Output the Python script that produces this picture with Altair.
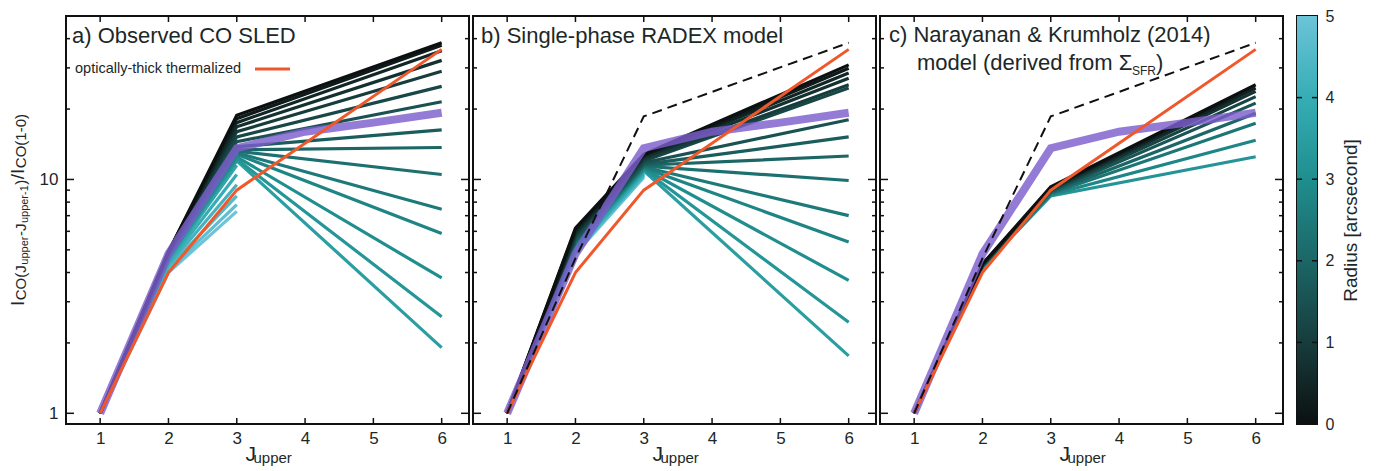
import altair as alt
import pandas as pd

# ---------------- data ----------------
J_ALL = [1, 2, 3, 4, 5, 6]
J_SLED = [1, 2, 3, 6]

thermalized = [1, 4, 9, 36]                     # optically-thick thermalized (J^2), orange, at J_SLED
global_sled = [1, 4.8, 13.6, 16.0, 17.5, 19.3]  # purple thick line, at J_ALL
central_obs = [1, 4.6, 18.6, 38.4]              # dashed line (panels b, c), at J_SLED

# a) observed SLEDs per radius (values at J = 1, 2, 3, 6)
obs_radius = [0.0, 0.25, 0.5, 0.75, 1.0, 1.25, 1.5, 1.75, 2.0, 2.25, 2.5, 2.75, 3.0, 3.25, 3.5,
              3.75, 4.0, 4.25, 4.5, 4.75, 5.0]
obs_j2 = [4.9, 4.9, 4.9, 4.9, 4.9, 4.8, 4.8, 4.8, 4.8, 4.8, 4.7, 4.7, 4.7, 4.6, 4.6,
          4.5, 4.4, 4.3, 4.2, 4.1, 4.0]
obs_j3 = [18.8, 18.2, 17.5, 16.8, 16.0, 15.2, 14.5, 13.8, 13.4, 13.2, 13.0, 12.8, 12.5, 12.2, 12.0,
          11.5, 10.5, 9.5, 8.5, 7.8, 7.3]
obs_j6 = [38.4, 37.5, 35.5, 32.3, 29.0, 25.0, 21.5, 16.3, 13.7, 10.5, 7.46, 5.87, 3.79, 2.59, 1.91,
          None, None, None, None, None, None]

# b) single-phase RADEX model
radex_radius = obs_radius
radex_j2 = [6.2, 6.1, 6.0, 5.9, 5.8, 5.7, 5.6, 5.5, 5.5, 5.4, 5.4, 5.3, 5.3, 5.2, 5.2,
            5.1, 5.0, 5.0, 4.9, 4.9, 4.8]
radex_j3 = [12.8, 12.7, 12.6, 12.4, 12.2, 12.0, 11.8, 11.6, 11.5, 11.4, 11.3, 11.2, 11.1, 11.0, 10.9,
            10.8, 10.6, 10.5, 10.4, 10.3, 10.2]
radex_j6 = [30.9, 29.9, 28.5, 27.1, 25.4, 24.6, 18.0, 15.2, 12.6, 9.9, 7.0, 5.4, 3.7, 2.45, 1.76,
            None, None, None, None, None, None]

# c) Narayanan & Krumholz (2014) model
nk_radius = [0.0, 0.4, 0.8, 1.2, 1.6, 2.0, 2.4, 2.8, 3.2]
nk_j2 = [4.35, 4.33, 4.31, 4.3, 4.28, 4.26, 4.24, 4.22, 4.2]
nk_j3 = [9.3, 9.2, 9.1, 9.0, 8.9, 8.8, 8.7, 8.6, 8.5]
nk_j6 = [25.4, 24.6, 23.8, 22.6, 21.2, 19.2, 17.4, 14.7, 12.5]

x_ticks = [1, 2, 3, 4, 5, 6]
y_major = [1, 10]
y_minor = [2, 3, 4, 5, 6, 7, 8, 9, 20, 30, 40]
cbar_ticks = [0, 1, 2, 3, 4, 5]

# ---------------- styling ----------------
FONT = "Liberation Sans"
TXT = "#1c2828"
ORANGE = "#f0582c"
PURPLE = "#7c5ecc"
CMAP = ["#0c1010", "#173c3c", "#1c6666", "#1f8e8e", "#36adb5", "#6cc4d8"]
W, H = 403, 408

xs = alt.Scale(domain=[0.5, 6.4], nice=False, zero=False)
ys = alt.Scale(type="log", domain=[0.9, 50], nice=False)
cs = alt.Scale(domain=[0, 1, 2, 3, 4, 5], range=CMAP, interpolate="rgb")


def long_df(radii, j2, j3, j6):
    rows = []
    for r, a, b, c in zip(radii, j2, j3, j6):
        for J, v in zip(J_SLED, [1, a, b, c]):
            if v is not None:
                rows.append({"r": r, "J": J, "v": v})
    df = pd.DataFrame(rows)
    return df.sort_values(["r", "J"], ascending=[False, True])


XAXIS = alt.Axis(values=x_ticks, format="d", labelFontSize=17, labelPadding=6, title=None,
                 ticks=False, domain=False, grid=False)
YAXIS = alt.Axis(values=y_major, format="d", labelFontSize=17, labelPadding=8, title=None,
                 ticks=False, domain=False, grid=False)


def text(s, x, y, size, align="left", angle=0, baseline="alphabetic", color=TXT):
    kw = dict(align=align, baseline=baseline, fontSize=size, font=FONT, color=color, text=s)
    if angle:
        kw["angle"] = angle
    return alt.Chart(pd.DataFrame({"d": [0]})).mark_text(**kw).encode(
        x=alt.value(x), y=alt.value(y))


def panel(df, dashed, yaxis, extra_text):
    def X():
        return alt.X("J:Q", scale=xs, axis=XAXIS)

    def Y():
        return alt.Y("v:Q", scale=ys, axis=yaxis)

    base_lines = alt.Chart(df).mark_line(strokeWidth=3.2).encode(
        x=X(), y=Y(),
        color=alt.Color("r:Q", scale=cs, legend=None),
        detail="r:N",
    )
    layers = [base_lines]
    gdf = pd.DataFrame({"J": J_ALL, "v": global_sled})
    layers.append(alt.Chart(gdf).mark_line(color=PURPLE, strokeWidth=8, opacity=0.82).encode(
        x=X(), y=Y()))
    tdf = pd.DataFrame({"J": J_SLED, "v": thermalized})
    layers.append(alt.Chart(tdf).mark_line(color=ORANGE, strokeWidth=3).encode(x=X(), y=Y()))
    if dashed:
        ddf = pd.DataFrame({"J": J_SLED, "v": central_obs})
        layers.append(alt.Chart(ddf).mark_line(color="#111111", strokeWidth=2,
                                               strokeDash=[10, 6]).encode(x=X(), y=Y()))
    # inward ticks on all four sides
    tx = pd.DataFrame({"J": x_ticks})
    c = "#111111"
    layers.append(alt.Chart(tx).mark_rule(color=c, strokeWidth=1.5).encode(
        x=X(), y=alt.value(H - 6), y2=alt.value(H)))
    layers.append(alt.Chart(tx).mark_rule(color=c, strokeWidth=1.5).encode(
        x=X(), y=alt.value(0), y2=alt.value(6)))
    for vals, ln in ((y_major, 8), (y_minor, 4)):
        tdf2 = pd.DataFrame({"v": vals})
        layers.append(alt.Chart(tdf2).mark_rule(color=c, strokeWidth=1.5).encode(
            y=Y(), x=alt.value(0), x2=alt.value(ln)))
        layers.append(alt.Chart(tdf2).mark_rule(color=c, strokeWidth=1.5).encode(
            y=Y(), x=alt.value(W - ln), x2=alt.value(W)))
    # x title J_upper
    layers.append(text("J", W / 2 - 22, H + 37, 21))
    layers.append(text("upper", W / 2 - 14, H + 39, 15))
    layers += extra_text
    return alt.layer(*layers).properties(width=W, height=H)


# ---- y-axis title built from pieces (I_CO(Jupper-Jupper-1)/I_CO(1-0)) ----
EM = {"I": .278, "C": .722, "O": .778, "(": .333, ")": .333, "J": .5, "u": .556, "p": .556,
      "e": .556, "r": .333, "-": .333, "1": .556, "0": .556, "/": .278}
pieces = [("I", 19, -42), ("CO(J", 15, -40), ("upper", 11, -38), ("-J", 15, -40),
          ("upper-1", 11, -38), (")", 15, -40), ("/I", 19, -42), ("CO(1-0)", 15, -40)]
ylab = []
ypos = 290
for s, sz, xo in pieces:
    ylab.append(text(s, xo, ypos, sz, angle=270))
    ypos -= sum(EM[ch] for ch in s) * sz + 0.5

a_text = [
    text("a) Observed CO SLED", 6, 27, 22),
    text("optically-thick thermalized", 9, 57, 14.5),
    alt.Chart(pd.DataFrame({"d": [0]})).mark_rule(color=ORANGE, strokeWidth=3).encode(
        x=alt.value(189), x2=alt.value(224), y=alt.value(53)),
] + ylab
b_text = [text("b) Single-phase RADEX model", 8, 27, 22)]
c_text = [
    text("c) Narayanan & Krumholz (2014)", 9, 26, 22),
    text("model (derived from \u03a3", 37, 54, 22),
    text("SFR", 252, 59, 12),
    text(")", 276, 54, 22),
]

pa = panel(long_df(obs_radius, obs_j2, obs_j3, obs_j6), False, YAXIS, a_text)
pb = panel(long_df(radex_radius, radex_j2, radex_j3, radex_j6), True, None, b_text)
pc = panel(long_df(nk_radius, nk_j2, nk_j3, nk_j6), True, None, c_text)

# ---------------- colorbar ----------------
cb_scale = alt.Scale(domain=[0, 5], nice=False, zero=False)
CB_AXIS = alt.Axis(orient="right", values=cbar_ticks, format="d", labelFontSize=16,
                   labelPadding=8, title="Radius [arcsecond]", titleFontSize=19,
                   titleAngle=270, titleBaseline="top", titlePadding=8,
                   ticks=False, domain=False, grid=False)
grad = alt.Gradient(gradient="linear", x1=0, x2=0, y1=1, y2=0,
                    stops=[alt.GradientStop(offset=i / 5, color=c) for i, c in enumerate(CMAP)])
cb = alt.Chart(pd.DataFrame({"t": [cbar_ticks[0]], "hi": [cbar_ticks[-1]]})).mark_rect(fill=grad).encode(
    y=alt.Y("t:Q", scale=cb_scale, axis=CB_AXIS),
    y2="hi:Q",
    x=alt.value(0), x2=alt.value(20),
)
cbt = pd.DataFrame({"t": cbar_ticks[1:-1]})
cb_t1 = alt.Chart(cbt).mark_rule(color="#111", strokeWidth=1.5).encode(
    y=alt.Y("t:Q", scale=cb_scale, axis=CB_AXIS), x=alt.value(0), x2=alt.value(5))
cb_t2 = alt.Chart(cbt).mark_rule(color="#111", strokeWidth=1.5).encode(
    y=alt.Y("t:Q", scale=cb_scale, axis=CB_AXIS), x=alt.value(15), x2=alt.value(20))
cbar = alt.layer(cb, cb_t1, cb_t2).properties(width=20, height=H)

chart = alt.hconcat(alt.hconcat(pa, pb, pc, spacing=0), cbar, spacing=10).configure_view(
    stroke="#111111", strokeWidth=2
).configure_axis(
    labelFont=FONT, labelColor=TXT, titleFont=FONT, titleColor=TXT, titleFontWeight="normal"
).properties(
    padding={"left": 0, "top": -1, "right": 5, "bottom": 5}, background="white"
)

chart.save("out.html", embed_options={"renderer": "svg", "actions": False})
